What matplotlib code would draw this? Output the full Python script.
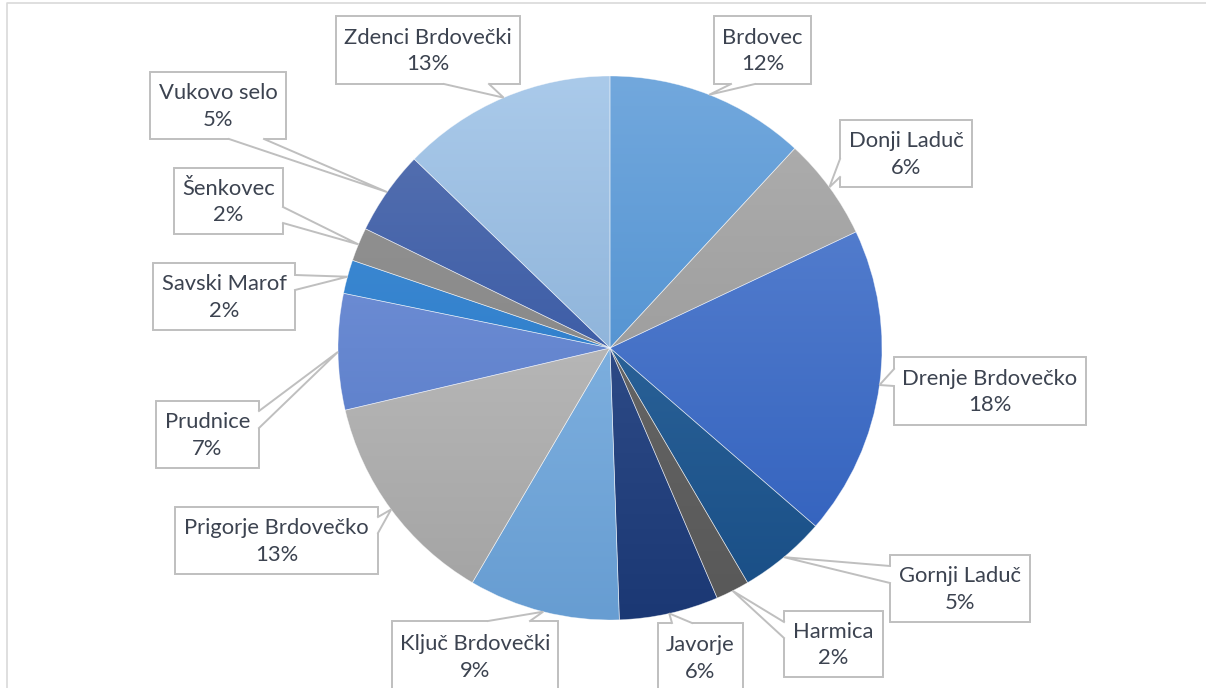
import numpy as np
import matplotlib.pyplot as plt
from matplotlib.patches import Rectangle, Polygon
from matplotlib.colors import to_rgb

plt.rcParams['font.family'] = ['Lato', 'DejaVu Sans']

# Dane
naselja = ['Brdovec', 'Donji Laduč', 'Drenje Brdovečko', 'Gornji Laduč', 'Harmica',
           'Javorje', 'Ključ Brdovečki', 'Prigorje Brdovečko', 'Prudnice', 'Savski Marof',
           'Šenkovec', 'Vukovo selo', 'Zdenci Brdovečki']
udjeli = [11.9, 6.1, 18.4, 5.2, 2.0, 5.9, 9.0, 12.9, 6.9, 2.0, 2.0, 5.0, 12.8]

# gradijent: boja na vrhu i na dnu kruga
boje_vrh = ['#72A8DD', '#B0B0B0', '#6088D4', '#3A74A8', '#707070', '#3F5C98', '#92C0EA',
            '#CACACA', '#7E9ADC', '#4A92D8', '#969696', '#5A74B2', '#AACAEA']
boje_dno = ['#3A82C8', '#8E8E8E', '#2D5DBB', '#184D85', '#585858', '#1B3874', '#679DD2',
            '#A2A2A2', '#4E74C4', '#1A70C2', '#7E7E7E', '#22489C', '#76A0CC']

# raspored oblacica (koordinate slike: x0, y0, x1, y1), strana i baza pokazivaca
okviri = [(714, 16, 811, 84), (840, 120, 972, 187), (894, 357, 1086, 425),
          (890, 555, 1030, 622), (784, 611, 883, 677), (658, 623, 743, 692),
          (392, 621, 558, 692), (175, 507, 378, 574), (156, 401, 259, 468),
          (153, 263, 295, 330), (174, 168, 283, 234), (150, 72, 286, 139),
          (336, 16, 520, 84)]
strane = ['bottom', 'left', 'left', 'left', 'left', 'top', 'top', 'right', 'right',
          'right', 'right', 'bottom', 'bottom']
baze = [(731, 755), (159, 177), (369, 386), (566, 583), (622, 638), (672, 692),
        (488, 530), (517, 533), (411, 428), (275, 290), (207, 223), (229, 264),
        (444, 489)]

W, H = 1206, 688
cx, cy, r = 610, H - 348, 272
siva = '#BFBFBF'
tekst = '#3C4350'

fig = plt.figure(figsize=(W / 100, H / 100), dpi=100)
ax = fig.add_axes([0, 0, 1, 1])

wedges, _ = ax.pie(udjeli, center=(cx, cy), radius=r, startangle=90, counterclock=False,
                   colors=boje_vrh, wedgeprops=dict(linewidth=0))

for w, c1, c2 in zip(wedges, boje_vrh, boje_dno):
    t = np.linspace(0, 1, 256)[:, None]
    grad = (1 - t) * np.array(to_rgb(c1)) + t * np.array(to_rgb(c2))
    im = ax.imshow(grad[:, None, :], extent=(cx - r, cx + r, cy - r, cy + r),
                   origin='upper', aspect='auto', interpolation='bilinear', zorder=2)
    im.set_clip_path(w)
    w.set_facecolor('none')
    w.set_edgecolor((1, 1, 1, 0.5))
    w.set_linewidth(0.5)
    w.set_zorder(3)

# oblacici s postocima
ukupno = sum(udjeli)
for w, ime, v, okv, strana, baza in zip(wedges, naselja, udjeli, okviri, strane, baze):
    x0, y0, x1, y1 = okv
    ax.add_patch(Rectangle((x0, H - y1), x1 - x0, y1 - y0, facecolor='white',
                           edgecolor=siva, linewidth=1.4, zorder=5))
    kut = np.deg2rad((w.theta1 + w.theta2) / 2)
    vrh = (cx + r * np.cos(kut), cy + r * np.sin(kut))
    if strana == 'bottom':
        p1, p2 = (baza[0], H - y1), (baza[1], H - y1)
        d = (0, 2)
    elif strana == 'top':
        p1, p2 = (baza[0], H - y0), (baza[1], H - y0)
        d = (0, -2)
    elif strana == 'left':
        p1, p2 = (x0, H - baza[0]), (x0, H - baza[1])
        d = (2, 0)
    else:
        p1, p2 = (x1, H - baza[0]), (x1, H - baza[1])
        d = (-2, 0)
    p1i = (p1[0] + d[0], p1[1] + d[1])
    p2i = (p2[0] + d[0], p2[1] + d[1])
    ax.add_patch(Polygon([p1i, p1, vrh, p2, p2i], closed=True, facecolor='white',
                         edgecolor='none', zorder=6))
    ax.plot([p1[0], vrh[0], p2[0]], [p1[1], vrh[1], p2[1]], color=siva, lw=1.4,
            zorder=7, solid_joinstyle='miter')
    ax.text((x0 + x1) / 2, H - (y0 + y1) / 2 - 1, f'{ime}\n{round(v / ukupno * 100)}%',
            ha='center', va='center', fontsize=15.8, color=tekst, linespacing=1.4, zorder=8)

# okvir grafikona
ax.plot([7, 7, W + 5], [-5, H - 3, H - 3], color='#D9D9D9', lw=1.2, zorder=1)

ax.set_xlim(0, W)
ax.set_ylim(0, H)
ax.set_aspect('equal')
ax.axis('off')

plt.savefig('out.png', dpi=100)
